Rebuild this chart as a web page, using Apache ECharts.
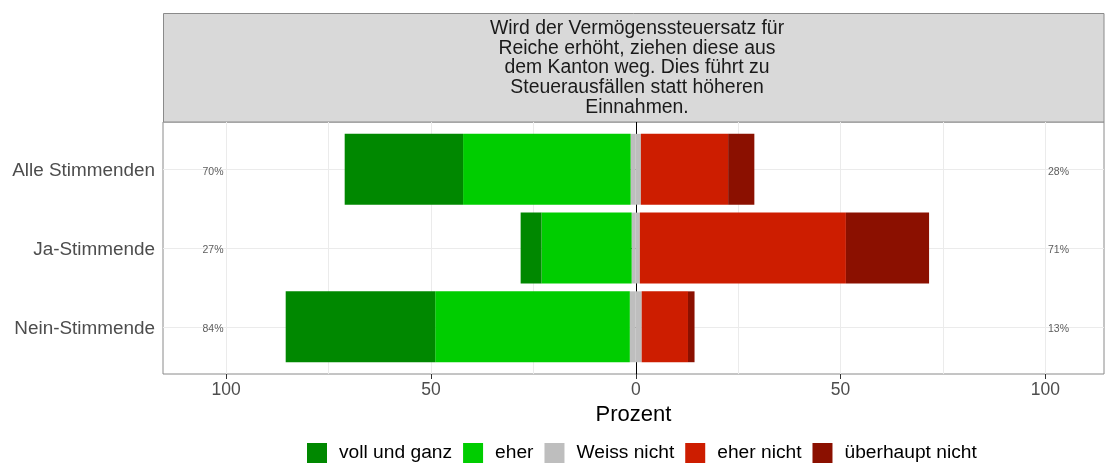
<!DOCTYPE html>
<html>
<head>
<meta charset="utf-8">
<script src="https://cdn.jsdelivr.net/npm/echarts@6/dist/echarts.min.js"></script>
<style>
  html, body { margin: 0; padding: 0; background: #fff; }
  #chart { width: 1105px; height: 463px; }
</style>
</head>
<body>
<div id="chart"></div>
<script>
// Werte (Prozent)
var categories = ['Alle Stimmenden', 'Ja-Stimmende', 'Nein-Stimmende'];
var vollUndGanz = [28.9, 5.1, 36.5];
var eher = [40.9, 22.0, 47.5];
var weissNicht = [2.5, 2.0, 2.9];
var eherNicht = [21.3, 50.3, 11.3];
var ueberhauptNicht = [6.4, 20.3, 1.6];
var leftPct = [70, 27, 84];
var rightPct = [28, 71, 13];
var xTicks = [-100, -50, 0, 50, 100];
var xGrid = [-100, -75, -50, -25, 0, 25, 50, 75, 100];
var legendNames = ['voll und ganz', 'eher', 'Weiss nicht', 'eher nicht', 'überhaupt nicht'];

var question = 'Wird der Vermögenssteuersatz für\nReiche erhöht, ziehen diese aus\ndem Kanton weg. Dies führt zu\nSteuerausfällen statt höheren\nEinnahmen.';

var colors = {
  voll: '#008800',
  eher: '#00CD00',
  weiss: '#BEBEBE',
  eherNicht: '#CD1D00',
  ueberhaupt: '#8B1000'
};

var FONT = 'Liberation Sans, Arial, Helvetica, sans-serif';
var X_MIN = -115.4, X_MAX = 114.3;
var LABEL_X = 103.2;

function neg(arr) { return arr.map(function (v) { return -v; }); }
function half(arr, sign) { return arr.map(function (v) { return sign * v / 2; }); }

var chart = echarts.init(document.getElementById('chart'), null, { renderer: 'canvas' });

function barSeries(name, data, color) {
  return {
    name: name,
    type: 'bar',
    stack: 'total',
    xAxisIndex: 0,
    yAxisIndex: 0,
    barWidth: '90%',
    data: data,
    itemStyle: { color: color },
    emphasis: { disabled: true },
    z: 3
  };
}

function pctLabels(sign, pcts) {
  return {
    type: 'scatter', xAxisIndex: 0, yAxisIndex: 0, symbolSize: 0, silent: true,
    data: categories.map(function (c) { return [sign * LABEL_X, c]; }),
    label: {
      show: true, position: 'inside',
      formatter: function (p) { return '{p|' + pcts[p.dataIndex] + '%}'; },
      rich: { p: { fontSize: 10.5, color: '#333', padding: [5, 0, 0, 0] } }
    },
    z: 4
  };
}

chart.setOption({
  animation: false,
  textStyle: { fontFamily: FONT },
  graphic: [
    {
      type: 'rect',
      shape: { x: 163.5, y: 13.5, width: 940.5, height: 108.5 },
      style: { fill: '#D9D9D9', stroke: '#8A8A8A', lineWidth: 1 },
      z: 0
    },
    {
      type: 'text',
      x: 637,
      y: 68,
      style: {
        text: question,
        fill: '#1A1A1A',
        font: '19.4px ' + FONT,
        align: 'center',
        verticalAlign: 'middle',
        lineHeight: 19.6
      },
      z: 1
    }
  ],
  legend: {
    data: legendNames,
    left: 307,
    top: 443,
    padding: 0,
    itemWidth: 20,
    itemHeight: 20,
    itemGap: 11,
    icon: 'rect',
    selectedMode: false,
    textStyle: { fontSize: 19.2, color: '#000', fontFamily: FONT, padding: [0, 0, 0, 7] }
  },
  grid: [
    { left: 163, right: 1, top: 129.9, height: 236.25, outerBoundsMode: 'none' },
    { left: 163, right: 1, top: 122, height: 252, outerBoundsMode: 'none',
      show: true, borderColor: '#8A8A8A', borderWidth: 1, backgroundColor: 'transparent' }
  ],
  xAxis: [
    { gridIndex: 0, type: 'value', min: X_MIN, max: X_MAX, show: false },
    {
      gridIndex: 1, type: 'value', min: X_MIN, max: X_MAX, position: 'top',
      axisLine: { show: false }, axisLabel: { show: false },
      axisTick: { show: false, customValues: xGrid },
      splitLine: { show: true, lineStyle: { color: '#EBEBEB', width: 1 } }
    },
    {
      gridIndex: 1, type: 'value', min: X_MIN, max: X_MAX, position: 'bottom',
      axisLine: { show: false },
      axisTick: { show: true, length: 5, customValues: xTicks, lineStyle: { color: '#333' } },
      axisLabel: {
        customValues: xTicks, fontSize: 17.5, color: '#4D4D4D', margin: 7,
        formatter: function (v) { return String(Math.abs(v)); }
      },
      splitLine: { show: false },
      name: 'Prozent', nameLocation: 'middle', nameGap: 27,
      nameTextStyle: { fontSize: 22, color: '#000' }
    }
  ],
  yAxis: [
    {
      gridIndex: 0, type: 'category', data: categories, inverse: true,
      axisLine: { show: false },
      axisTick: { show: true, alignWithLabel: true, length: 5, lineStyle: { color: '#333' } },
      axisLabel: {
        fontSize: 18.9, color: '#4D4D4D', margin: 8,
        formatter: function (v) { return '{c|' + v + '}'; },
        rich: { c: { fontSize: 18.9, color: '#4D4D4D', padding: [4, 0, 0, 0] } }
      },
      splitLine: { show: false }
    },
    {
      gridIndex: 1, type: 'value', min: 0.4, max: 3.6, inverse: true,
      axisLine: { show: false }, axisLabel: { show: false },
      axisTick: { show: false, customValues: [1, 2, 3] },
      splitLine: { show: true, lineStyle: { color: '#EBEBEB', width: 1 } }
    }
  ],
  series: [
    {
      type: 'line', xAxisIndex: 1, yAxisIndex: 1, data: [], silent: true,
      markLine: {
        silent: true, symbol: 'none', z: 1,
        label: { show: false },
        lineStyle: { color: '#000', width: 1, type: 'solid' },
        emphasis: { disabled: true },
        data: [{ xAxis: 0 }]
      }
    },
    barSeries('Weiss nicht', half(weissNicht, -1), colors.weiss),
    barSeries('eher', neg(eher), colors.eher),
    barSeries('voll und ganz', neg(vollUndGanz), colors.voll),
    barSeries('Weiss nicht', half(weissNicht, 1), colors.weiss),
    barSeries('eher nicht', eherNicht, colors.eherNicht),
    barSeries('überhaupt nicht', ueberhauptNicht, colors.ueberhaupt),
    pctLabels(-1, leftPct),
    pctLabels(1, rightPct)
  ]
});
</script>
</body>
</html>
